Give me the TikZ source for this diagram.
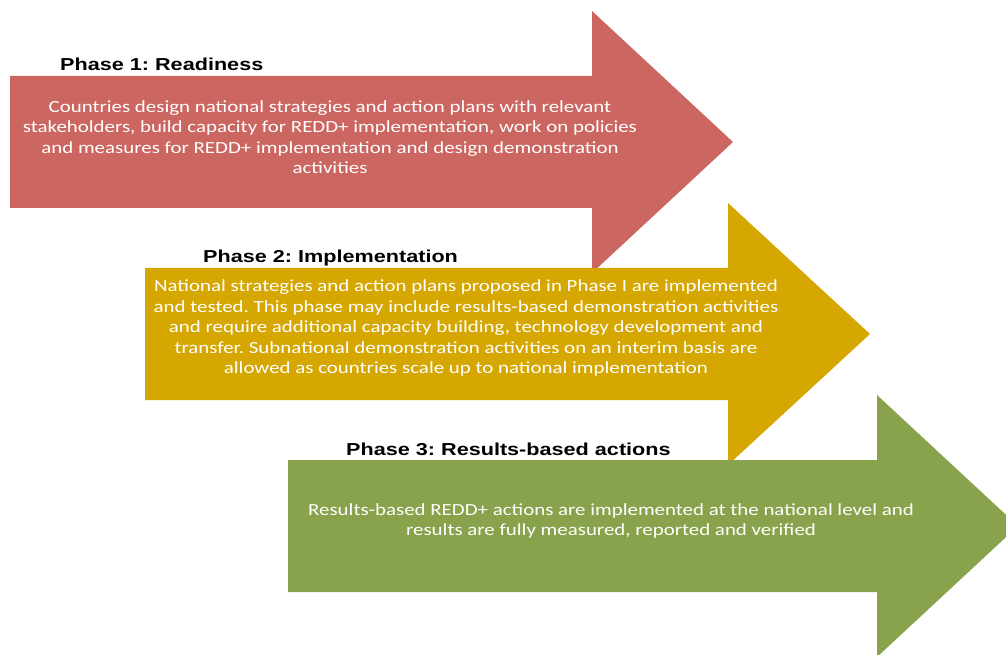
\documentclass[tikz,border=0pt]{standalone}
\usepackage{fontspec}
\newfontfamily\bodyfont[FakeStretch=1.23]{Carlito}
\newfontfamily\headfont[FakeStretch=1.25]{Liberation Sans}
\definecolor{phaseA}{HTML}{CC6661}
\definecolor{phaseB}{HTML}{D5A700}
\definecolor{phaseC}{HTML}{89A34C}
\frenchspacing
\begin{document}
\begin{tikzpicture}[x=1pt,y=1pt,
  phasetitle/.style={anchor=base west,inner sep=0pt,font=\headfont\bfseries\fontsize{17.3}{20}\selectfont,text=black},
  phasetext/.style={anchor=center,inner sep=0pt,align=center,text=white,font=\bodyfont\fontsize{17}{20.5}\selectfont}]
\useasboundingbox (0,0) rectangle (1006,654);
\clip (0,0) rectangle (1006,654);
% Arrow 1 (y up: y = 654 - ypix)
\fill[phaseA] (10,578) -- (592,578) -- (592,643) -- (733,512) -- (592,381) -- (592,446) -- (10,446) -- cycle;
% Arrow 2
\fill[phaseB] (145,386) -- (728,386) -- (728,451) -- (870,320) -- (728,189) -- (728,254) -- (145,254) -- cycle;
% Arrow 3
\fill[phaseC] (288,194) -- (877,194) -- (877,259) -- (1018,128) -- (877,-3) -- (877,62) -- (288,62) -- cycle;
% Titles
\node[phasetitle] (t1) at (60,583) {Phase 1: Readiness};
\node[phasetitle] (t2) at (203,391) {Phase 2: Implementation};
\node[phasetitle] (t3) at (346,199) {Phase 3: Results-based actions};
% Texts
\node[phasetext] (d1) at (330,517) {Countries design national strategies and action plans with relevant\\stakeholders, build capacity for REDD+ implementation, work on policies\\and measures for REDD+ implementation and design demonstration\\activities};
\node[phasetext] (d2) at (466,326) {National strategies and action plans proposed in Phase I are implemented\\and tested. This phase may include results-based demonstration activities\\and require additional capacity building, technology development and\\transfer. Subnational demonstration activities on an interim basis are\\allowed as countries scale up to national implementation};
\node[phasetext] (d3) at (611,133) {Results-based REDD+ actions are implemented at the national level and\\results are fully measured, reported and verified};
\end{tikzpicture}
\end{document}
